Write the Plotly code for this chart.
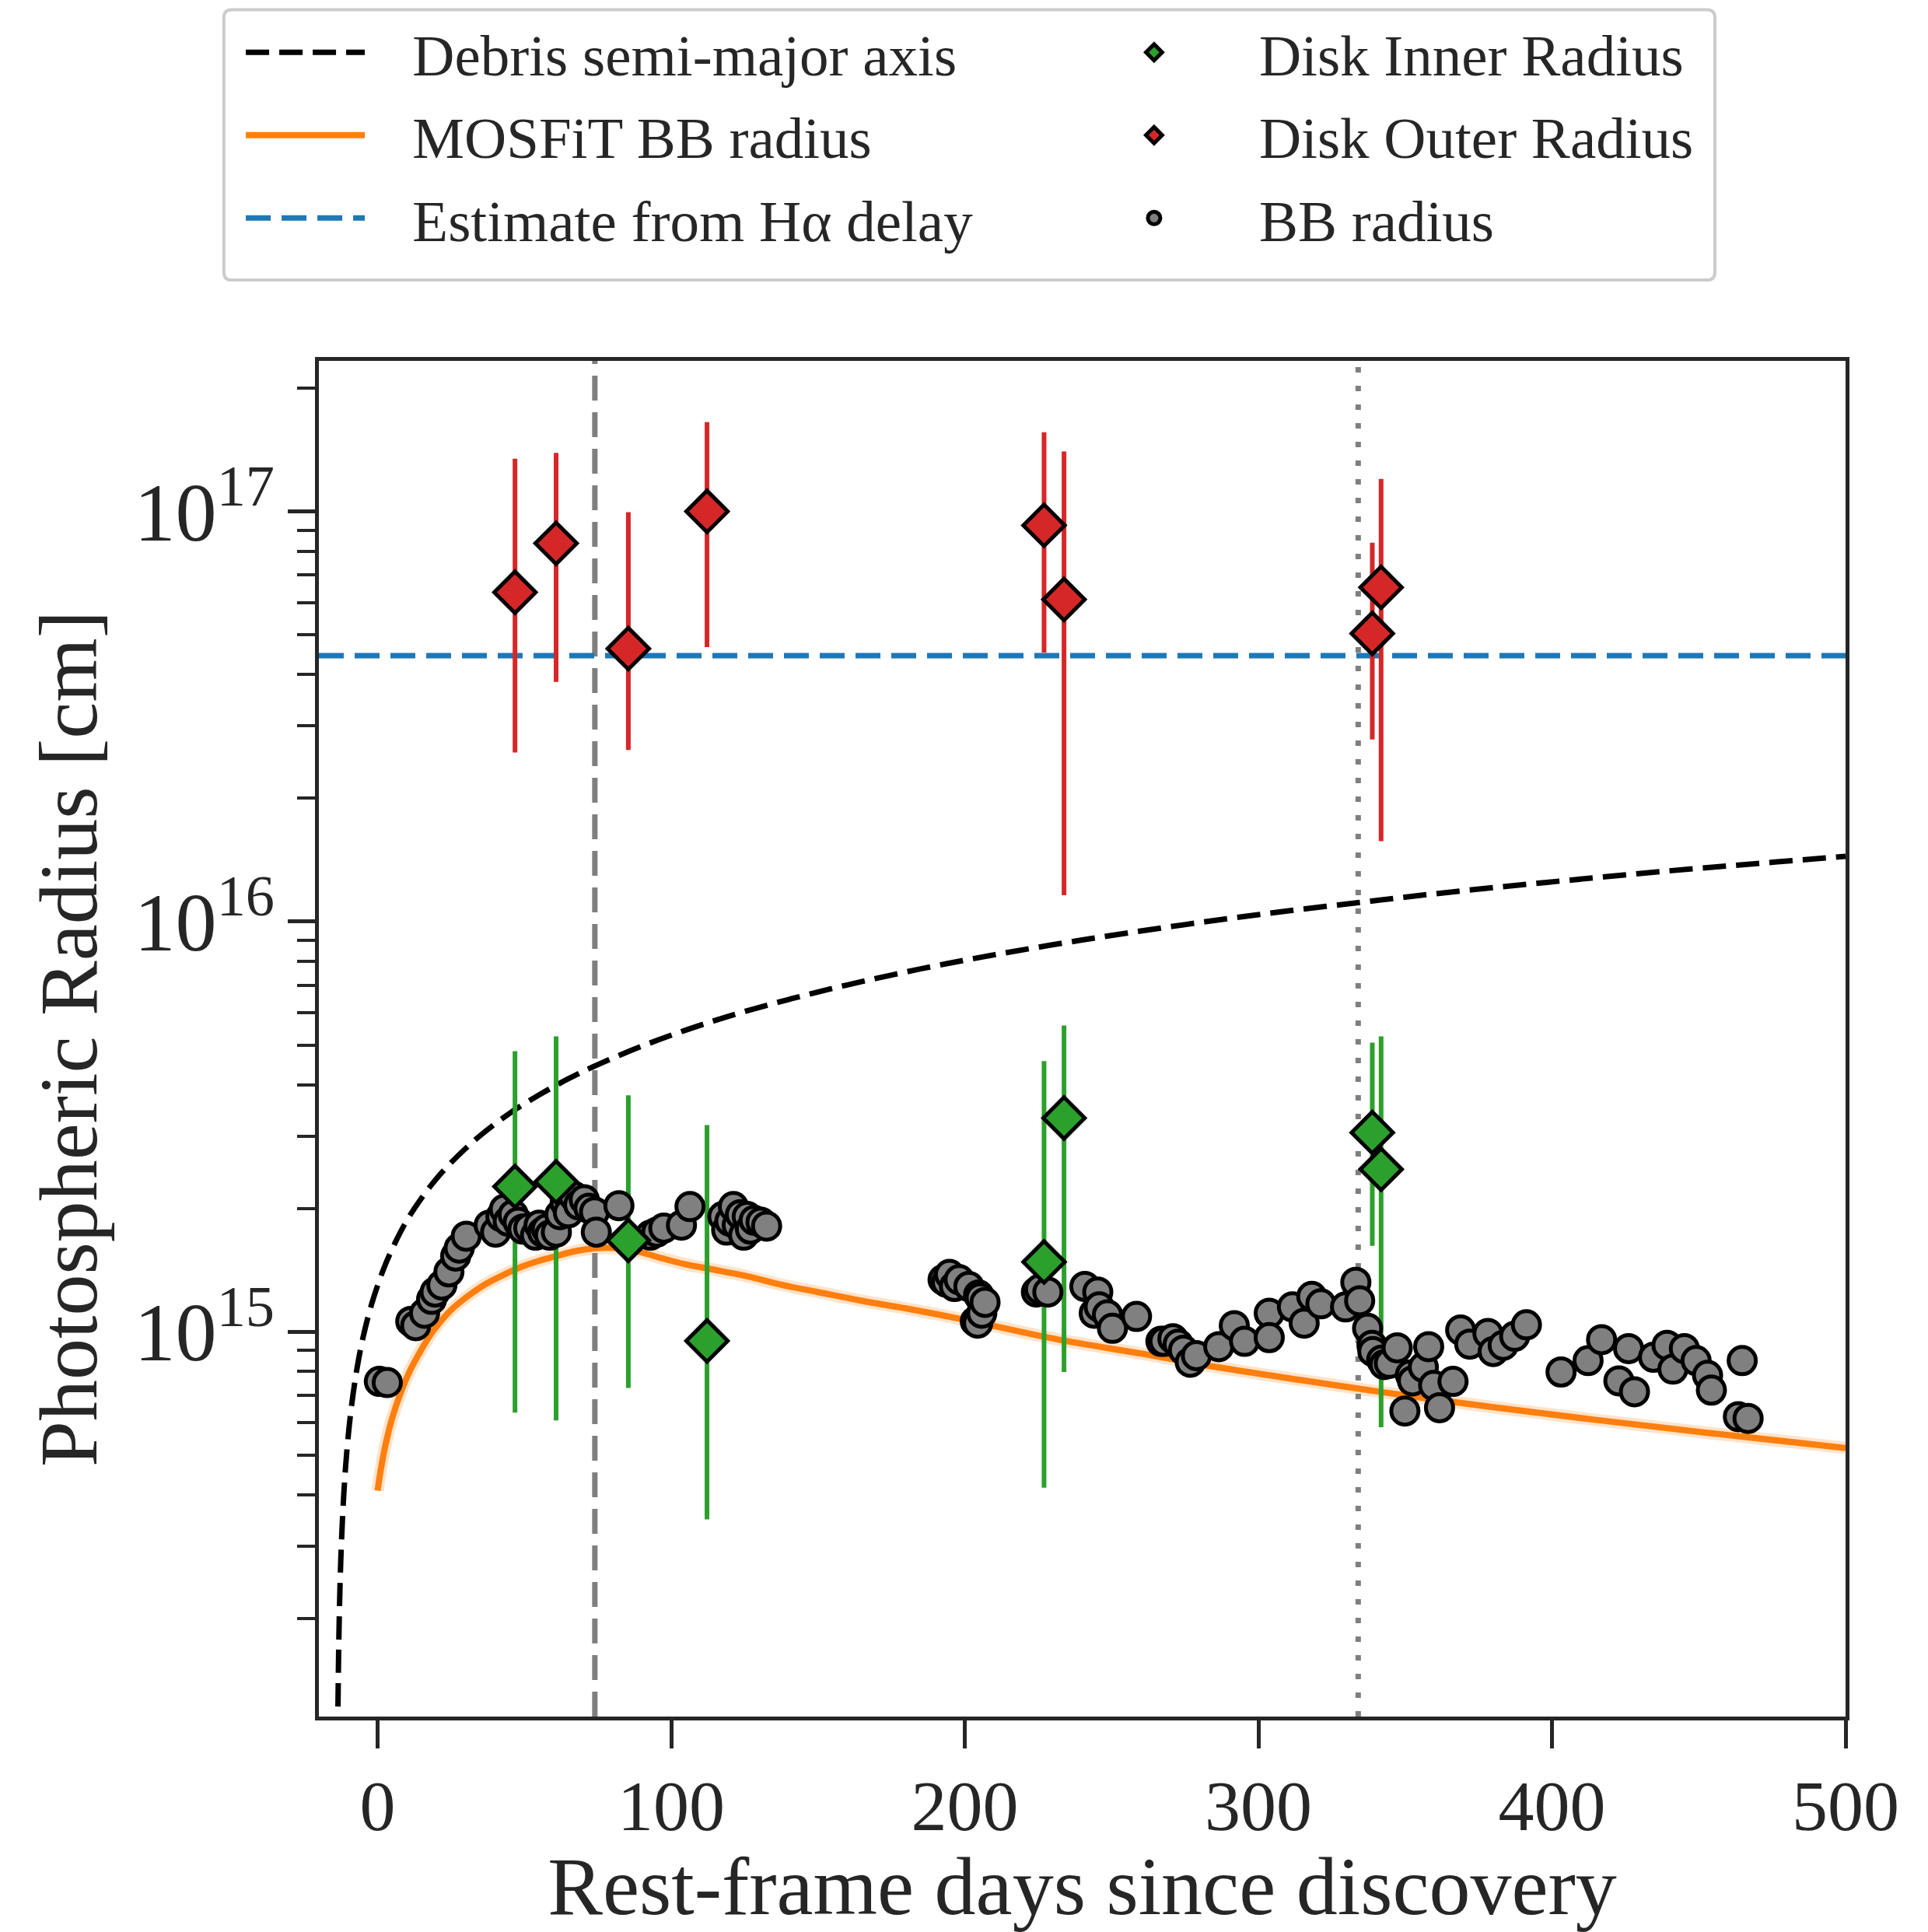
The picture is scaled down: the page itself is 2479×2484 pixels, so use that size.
import plotly.graph_objects as go

# ---------------- data ----------------
# Blackbody radius from the SED fits (rest-frame days, cm)
bb_days = [0.6, 3.3, 11.3, 13.0, 16.0, 18.4, 19.6, 21.9, 24.3, 26.6, 27.8, 30.2,
           38.0, 40.2, 42.0, 43.2, 44.5, 46.2, 47.9, 49.5, 51.5, 53.8, 55.0, 56.2,
           57.5, 58.6, 60.9, 62.1, 63.9, 65.0, 66.8, 68.5, 70.4, 72.0, 73.9, 74.5,
           82.2, 92.9, 95.1, 97.5, 103.5, 106.4, 117.6, 118.9, 120.0, 121.2, 122.5,
           123.6, 124.7, 125.9, 127.0, 128.3, 130.6, 132.5,
           192.6, 193.8, 194.8, 196.5, 198.1, 201.4, 203.6, 204.4, 204.7, 205.3,
           205.8, 206.9, 224.4, 225.5, 228.3,
           240.9, 244.1, 245.3, 245.8, 248.6, 250.3, 258.5,
           266.8, 267.9, 270.9, 272.7, 274.5, 276.8, 278.9, 286.5, 291.8, 295.3,
           303.7, 303.7, 311.6, 315.6, 318.2, 321.3, 329.7, 333.2, 334.5, 337.2,
           338.7, 339.0, 342.0, 342.9, 344.6, 347.3, 349.9, 351.8, 352.5, 356.2,
           358.0, 359.7, 361.7, 366.3, 368.9, 372.0, 378.2, 380.0, 383.4, 387.3,
           391.3, 403.1, 412.3, 416.9, 422.8, 426.1, 428.1, 434.6, 439.2, 441.2,
           445.1, 449.1, 453.0, 454.3, 463.5, 464.8, 466.8]
bb_radius = [7.57e14, 7.52e14, 1.06e15, 1.035e15, 1.11e15, 1.20e15, 1.25e15, 1.30e15,
             1.40e15, 1.53e15, 1.60e15, 1.71e15,
             1.82e15, 1.75e15, 1.91e15, 1.99e15, 1.86e15, 1.93e15, 1.85e15, 1.78e15,
             1.79e15, 1.72e15, 1.82e15, 1.75e15, 1.78e15, 1.72e15, 1.75e15, 1.93e15,
             2.06e15, 1.95e15, 2.14e15, 2.04e15, 2.10e15, 2.0e15, 1.96e15, 1.75e15,
             2.03e15, 1.72e15, 1.75e15, 1.79e15, 1.82e15, 2.02e15, 1.91e15, 1.77e15,
             1.86e15, 2.02e15, 1.82e15, 1.93e15, 1.72e15, 1.91e15, 1.78e15, 1.87e15,
             1.85e15, 1.81e15,
             1.34e15, 1.32e15, 1.38e15, 1.29e15, 1.34e15, 1.29e15, 1.06e15, 1.05e15,
             1.23e15, 1.21e15, 1.11e15, 1.18e15, 1.25e15, 1.27e15, 1.25e15,
             1.29e15, 1.11e15, 1.25e15, 1.15e15, 1.10e15, 1.02e15, 1.09e15,
             9.48e14, 9.48e14, 9.62e14, 9.33e14, 9.02e14, 8.43e14, 8.75e14, 9.2e14,
             1.035e15, 9.48e14, 1.11e15, 9.68e14, 1.15e15, 1.05e15, 1.22e15, 1.17e15,
             1.15e15, 1.32e15, 1.19e15, 1.02e15, 9.27e14, 8.95e14, 8.53e14, 8.32e14,
             8.38e14, 9.14e14, 6.41e14, 7.85e14, 7.59e14, 8.2e14, 9.2e14, 7.4e14,
             6.53e14, 7.57e14, 1.01e15, 9.33e14, 9.91e14, 8.95e14, 9.27e14, 9.75e14,
             1.04e15, 7.98e14, 8.51e14, 9.57e14, 7.59e14, 9.1e14, 7.14e14, 8.67e14,
             9.27e14, 8.11e14, 9.1e14, 8.51e14, 7.83e14, 7.21e14, 6.21e14, 8.51e14,
             6.15e14]

# Disk radii from the line-profile fits
disk_days = [46.8, 60.8, 85.4, 112.2, 227.0, 233.8, 338.8, 341.8]
inner_r = [2.26e15, 2.32e15, 1.67e15, 9.5e14, 1.48e15, 3.32e15, 3.06e15, 2.49e15]
inner_hi = [4.83e15, 5.25e15, 3.77e15, 3.19e15, 4.57e15, 5.58e15, 5.07e15, 5.25e15]
inner_lo = [6.35e14, 6.08e14, 7.3e14, 3.49e14, 4.17e14, 7.98e14, 1.62e15, 5.85e14]
outer_r = [6.35e16, 8.36e16, 4.63e16, 1.00e17, 9.25e16, 6.1e16, 5.04e16, 6.53e16]
outer_hi = [1.345e17, 1.39e17, 9.96e16, 1.65e17, 1.56e17, 1.40e17, 8.39e16, 1.20e17]
outer_lo = [2.585e16, 3.84e16, 2.62e16, 4.67e16, 4.53e16, 1.16e16, 2.78e16, 1.57e16]

# MOSFiT blackbody radius model
mosfit_days = [0, 1, 2, 3.2, 5, 7.8, 10.5, 13.6, 16.5, 19.6, 25, 31.3, 37, 43.2, 49,
               55, 61, 66.8, 75, 83, 90, 97, 105, 114, 125, 138, 150, 165, 180, 200,
               231, 260, 286, 316, 348, 380, 414, 455, 500]
mosfit_r = [4.1e14, 4.57e14, 5.01e14, 5.50e14, 6.17e14, 7.08e14, 7.89e14, 8.71e14,
            9.46e14, 1.02e15, 1.13e15, 1.23e15, 1.31e15, 1.38e15, 1.44e15, 1.49e15,
            1.53e15, 1.57e15, 1.60e15, 1.595e15, 1.56e15, 1.51e15, 1.46e15, 1.42e15,
            1.37e15, 1.30e15, 1.25e15, 1.19e15, 1.14e15, 1.07e15, 9.6e14, 8.85e14,
            8.2e14, 7.6e14, 7.03e14, 6.55e14, 6.11e14, 5.65e14, 5.21e14]

# Semi-major axis of the most bound debris
debris_days = [-13.5, -13.2, -12.8, -12.3, -11.5, -10.5, -9.0, -7.0, -5.0, -2.0, 2, 6,
               10, 15, 20, 27, 35, 45, 55, 65, 75, 90, 105, 120, 140, 160, 185, 210,
               240, 270, 300, 335, 370, 405, 440, 470, 500]
debris_a = [1.22e14, 1.77e14, 2.40e14, 3.08e14, 4.03e14, 5.09e14, 6.49e14, 8.15e14,
            9.66e14, 1.17e15, 1.42e15, 1.65e15, 1.87e15, 2.12e15, 2.36e15, 2.67e15,
            3.01e15, 3.41e15, 3.78e15, 4.14e15, 4.48e15, 4.97e15, 5.44e15, 5.89e15,
            6.46e15, 7.01e15, 7.67e15, 8.30e15, 9.02e15, 9.72e15, 1.04e16, 1.115e16,
            1.19e16, 1.26e16, 1.33e16, 1.386e16, 1.443e16]

# Radius implied by the H-alpha lag, and reference epochs
halpha_radius = 4.45e16
t_peak = 74.0
t_epoch = 334.0

# ---------------- styling ----------------
FONT = "Liberation Serif, Times New Roman, serif"
INK = "#262626"
X_RANGE = [-20, 500]
LOGY_RANGE = [14.062, 17.367]
y_span = [10 ** LOGY_RANGE[0], 10 ** LOGY_RANGE[1]]
PAD = "\u00a0\u00a0\u00a0"

fig = go.Figure()

# MOSFiT model (faint uncertainty halo + central line)
fig.add_trace(go.Scatter(x=mosfit_days, y=mosfit_r, mode="lines",
                         line=dict(color="rgba(255,127,14,0.22)", width=16, shape="spline"),
                         showlegend=False, hoverinfo="skip"))
fig.add_trace(go.Scatter(x=mosfit_days, y=mosfit_r, mode="lines",
                         name=PAD + "MOSFiT BB radius",
                         line=dict(color="#ff7f0e", width=8, shape="spline"),
                         legend="legend", legendrank=2, legendgroup="b"))

# reference epochs
fig.add_trace(go.Scatter(x=[t_peak, t_peak], y=y_span, mode="lines",
                         line=dict(color="#7f7f7f", width=7, dash="32px,15px"),
                         showlegend=False, hoverinfo="skip"))
fig.add_trace(go.Scatter(x=[t_epoch, t_epoch], y=y_span, mode="lines",
                         line=dict(color="#7f7f7f", width=7, dash="7px,17px"),
                         showlegend=False, hoverinfo="skip"))

# debris semi-major axis
fig.add_trace(go.Scatter(x=debris_days, y=debris_a, mode="lines",
                         name=PAD + "Debris semi-major axis",
                         line=dict(color="black", width=7, dash="30px,13px", shape="spline",
                                   smoothing=1.0),
                         legend="legend", legendrank=1, legendgroup="a"))

# H-alpha delay estimate
fig.add_trace(go.Scatter(x=X_RANGE, y=[halpha_radius, halpha_radius], mode="lines",
                         name=PAD + "Estimate from H\u03b1 delay",
                         line=dict(color="#1f77b4", width=7, dash="32px,14px"),
                         legend="legend", legendrank=3, legendgroup="c"))

# error bars for the disk radii (drawn beneath the BB points)
def err_trace(r, hi, lo, color):
    return go.Scatter(
        x=disk_days, y=r, mode="markers",
        marker=dict(size=1, color="rgba(0,0,0,0)", line=dict(width=0)),
        error_y=dict(type="data", symmetric=False,
                     array=[h - v for h, v in zip(hi, r)],
                     arrayminus=[v - l for v, l in zip(r, lo)],
                     color=color, thickness=6, width=0),
        showlegend=False, hoverinfo="skip")

fig.add_trace(err_trace(outer_r, outer_hi, outer_lo, "#d62728"))
fig.add_trace(err_trace(inner_r, inner_hi, inner_lo, "#2ca02c"))

# blackbody radius points
fig.add_trace(go.Scatter(x=bb_days, y=bb_radius, mode="markers", name="BB radius",
                         marker=dict(symbol="circle", size=35, color="#808080",
                                     line=dict(color="black", width=5)),
                         legend="legend2", legendrank=3, legendgroup="f"))

# disk radius markers
fig.add_trace(go.Scatter(x=disk_days, y=inner_r, mode="markers", name="Disk Inner Radius",
                         marker=dict(symbol="diamond", size=41, color="#2ca02c",
                                     line=dict(color="black", width=5)),
                         legend="legend2", legendrank=1, legendgroup="d"))
fig.add_trace(go.Scatter(x=disk_days, y=outer_r, mode="markers", name="Disk Outer Radius",
                         marker=dict(symbol="diamond", size=41, color="#d62728",
                                     line=dict(color="black", width=5)),
                         legend="legend2", legendrank=2, legendgroup="e"))

axis_common = dict(showline=True, linecolor=INK, linewidth=5, mirror=True,
                   ticks="outside", tickwidth=5, tickcolor=INK, showgrid=False,
                   zeroline=False, automargin=False,
                   title_font=dict(family=FONT, size=106, color=INK))

legend_common = dict(yanchor="top", xanchor="left", bgcolor="rgba(0,0,0,0)",
                     borderwidth=0, font=dict(family=FONT, size=75, color=INK),
                     tracegroupgap=6, traceorder="grouped")

fig.update_layout(
    width=2479, height=2484,
    margin=dict(l=410, r=106, t=462, b=277),
    paper_bgcolor="white", plot_bgcolor="white",
    font=dict(family=FONT, color=INK),
    xaxis=dict(range=X_RANGE, dtick=100, tick0=0, ticklen=36, ticklabelstandoff=-5,
               tickfont=dict(family=FONT, size=92, color=INK),
               title=dict(text="Rest-frame days since discovery", standoff=34),
               **axis_common),
    yaxis=dict(type="log", range=LOGY_RANGE, dtick=1, ticklen=35,
               exponentformat="power",
               tickfont=dict(family=FONT, size=85, color=INK),
               minor=dict(ticks="outside", ticklen=23, tickwidth=4, tickcolor=INK,
                          dtick="D1", showgrid=False),
               title=dict(text="Photospheric Radius [cm]", standoff=14),
               **axis_common),
    legend=dict(x=-0.0504, y=1.2593, itemwidth=153, **legend_common),
    legend2=dict(x=0.4783, y=1.2593, itemwidth=260, **legend_common),
    shapes=[dict(type="path", xref="paper", yref="paper", layer="below",
                 path="M -0.057,1.259 L 0.909,1.259 Q 0.9144,1.259 0.9144,1.2533 "
                      "L 0.9144,1.0653 Q 0.9144,1.0596 0.909,1.0596 L -0.057,1.0596 "
                      "Q -0.0622,1.0596 -0.0622,1.0653 L -0.0622,1.2533 "
                      "Q -0.0622,1.259 -0.057,1.259 Z",
                 line=dict(color="#cccccc", width=4), fillcolor="white")],
)

fig.write_html("out.html")
